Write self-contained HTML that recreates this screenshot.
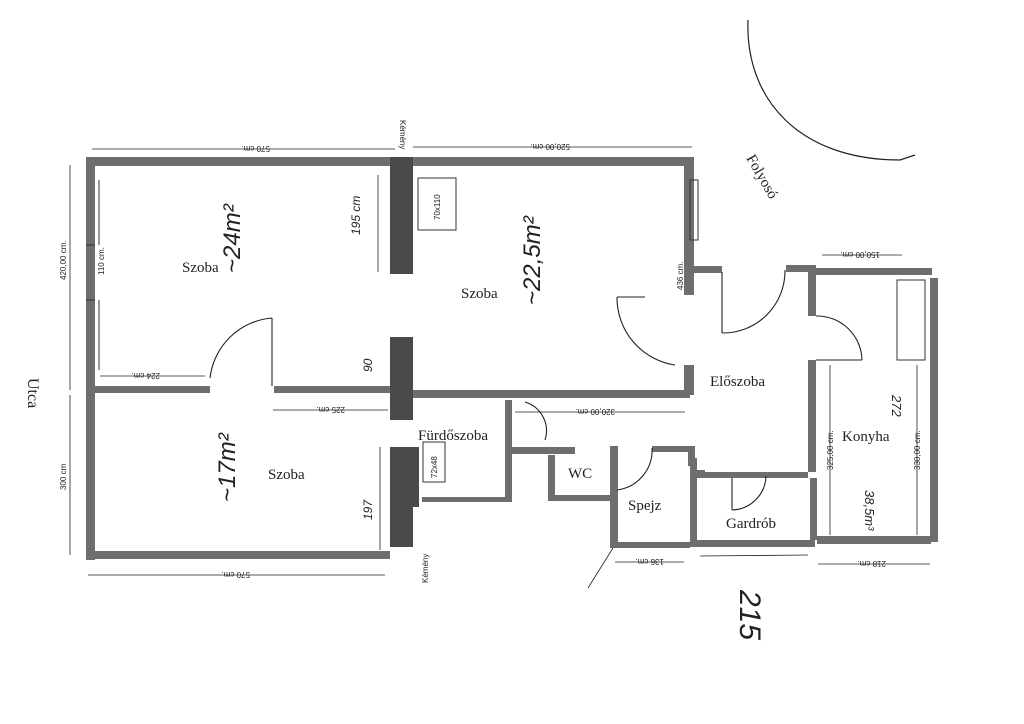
<!DOCTYPE html>
<html><head><meta charset="utf-8"><style>
html,body{margin:0;padding:0;background:#fff;}
svg{display:block}
.t{font-family:"Liberation Serif",serif;fill:#222}
.s{font-family:"Liberation Sans",sans-serif;fill:#222;font-size:8px}
</style></head><body>
<svg width="1024" height="724" viewBox="0 0 1024 724" xmlns="http://www.w3.org/2000/svg">
<rect width="1024" height="724" fill="#fff"/>
<g fill="#6e6e6e">
<!-- left block -->
<rect x="88" y="157" width="302" height="9"/>
<rect x="412" y="157" width="282" height="9"/>
<rect x="86" y="157" width="9" height="403"/>
<rect x="86" y="551" width="304" height="8"/>
<rect x="95" y="386" width="115" height="7"/>
<rect x="274" y="386" width="116" height="7"/>
<rect x="412" y="390" width="278" height="8"/>
<rect x="684" y="157" width="10" height="138"/>
<rect x="684" y="365" width="10" height="30"/>
<!-- foyer/kitchen -->
<rect x="694" y="266" width="28" height="7"/>
<rect x="786" y="265" width="30" height="7"/>
<rect x="816" y="268" width="116" height="7"/>
<rect x="930" y="278" width="8" height="264"/>
<rect x="808" y="268" width="8" height="48"/>
<rect x="808" y="360" width="8" height="112"/>
<rect x="810" y="478" width="7" height="62"/>
<rect x="817" y="536" width="114" height="8"/>
<rect x="697" y="472" width="111" height="6"/>
<rect x="690" y="458" width="7" height="88"/>
<rect x="690" y="540" width="125" height="7"/>
<!-- bath/wc/spejz -->
<rect x="422" y="497" width="85" height="5"/>
<rect x="505" y="400" width="7" height="102"/>
<rect x="512" y="447" width="63" height="7"/>
<rect x="548" y="455" width="7" height="46"/>
<rect x="548" y="495" width="64" height="6"/>
<rect x="610" y="446" width="8" height="102"/>
<rect x="652" y="446" width="38" height="6"/>
<rect x="688" y="446" width="7" height="20"/>
<rect x="612" y="542" width="78" height="6"/>
<rect x="695" y="470" width="10" height="5"/>
</g>
<!-- chimneys -->
<g fill="#4a4a4a">
<rect x="390" y="157" width="23" height="117"/>
<rect x="390" y="337" width="23" height="83"/>
<rect x="390" y="447" width="23" height="100"/>
<rect x="413" y="447" width="6" height="60"/>
</g>
<!-- windows -->
<g stroke="#333" fill="none" stroke-width="1">
<line x1="99" y1="180" x2="99" y2="245"/><line x1="99" y1="300" x2="99" y2="370"/>
<line x1="86" y1="245" x2="95" y2="245"/><line x1="86" y1="300" x2="95" y2="300"/>
<rect x="690" y="180" width="8" height="60"/>
<rect x="418" y="178" width="38" height="52"/>
<rect x="423" y="442" width="22" height="40"/>
<rect x="897" y="280" width="28" height="80"/>
</g>
<!-- doors -->
<g stroke="#222" fill="none" stroke-width="1.1">
<line x1="272" y1="386" x2="272" y2="318"/><path d="M272 318 A68 68 0 0 0 210 378"/>
<line x1="617" y1="297" x2="645" y2="297"/><path d="M617 297 A68 68 0 0 0 675 365"/>
<line x1="722" y1="272" x2="722" y2="333"/><path d="M722 333 A62 62 0 0 0 785 270"/>
<line x1="816" y1="360" x2="862" y2="360"/><path d="M816 316 A45 45 0 0 1 862 360"/>
<line x1="732" y1="478" x2="732" y2="510"/><path d="M732 510 A35 35 0 0 0 766 476"/>
<path d="M652 448 A40 40 0 0 1 617 490"/>
<path d="M525 402 A30 30 0 0 1 545 440"/>
</g>
<!-- dimension lines -->
<g stroke="#222" stroke-width="0.8" fill="none">
<line x1="92" y1="149" x2="395" y2="149"/><line x1="413" y1="147" x2="692" y2="147"/>
<line x1="70" y1="165" x2="70" y2="390"/><line x1="70" y1="395" x2="70" y2="555"/>
<line x1="88" y1="575" x2="385" y2="575"/>
<line x1="273" y1="410" x2="388" y2="410"/>
<line x1="100" y1="376" x2="205" y2="376"/>
<line x1="822" y1="255" x2="902" y2="255"/>
<line x1="615" y1="562" x2="684" y2="562"/>
<line x1="818" y1="564" x2="930" y2="564"/>
<line x1="830" y1="365" x2="830" y2="535"/>
<line x1="917" y1="365" x2="917" y2="535"/>
<line x1="515" y1="412" x2="685" y2="412"/>
<line x1="380" y1="447" x2="380" y2="550"/>
<line x1="378" y1="175" x2="378" y2="272"/>
<path d="M700 556 L808 555"/>
<line x1="613" y1="548" x2="588" y2="588"/>
</g>
<!-- curve -->
<path d="M748 20 C745 100 800 160 900 160 L915 155" stroke="#222" fill="none" stroke-width="1.2"/>
<!-- labels -->
<g class="t" font-size="15">
<text x="182" y="272">Szoba</text>
<text x="461" y="298">Szoba</text>
<text x="268" y="479">Szoba</text>
<text x="418" y="440">Fürdőszoba</text>
<text x="568" y="478">WC</text>
<text x="628" y="510">Spejz</text>
<text x="710" y="386">Előszoba</text>
<text x="842" y="441">Konyha</text>
<text x="726" y="528">Gardrób</text>
<text x="28" y="378" transform="rotate(90 28 378)" font-size="16">Utca</text>
<text x="746" y="158" transform="rotate(60 746 158)" font-size="15">Folyosó</text>
</g>
<g class="s">
<text x="210" y="152" transform="rotate(180 240 149)">570 cm.</text>
<text x="520" y="150" transform="rotate(180 545 147)">520,00 cm.</text>
<text x="200" y="578" transform="rotate(180 225 575)">570 cm.</text>
<text x="315" y="413" transform="rotate(180 330 410)">225 cm.</text>
<text x="130" y="379" transform="rotate(180 145 376)">224 cm.</text>
<text x="840" y="258" transform="rotate(180 860 255)">150,00 cm.</text>
<text x="636" y="565" transform="rotate(180 650 562)">136 cm.</text>
<text x="850" y="567" transform="rotate(180 868 564)">218 cm.</text>
<text x="575" y="415" transform="rotate(180 595 412)">320,00 cm.</text>
<text x="66" y="280" transform="rotate(-90 66 280)">420,00 cm.</text>
<text x="66" y="490" transform="rotate(-90 66 490)">300 cm</text>
<text x="104" y="275" transform="rotate(-90 104 275)">110 cm.</text>
<text x="833" y="470" transform="rotate(-90 833 470)">325,00 cm.</text>
<text x="920" y="470" transform="rotate(-90 920 470)">330,00 cm.</text>
<text x="683" y="290" transform="rotate(-90 683 290)">436 cm.</text>
<text x="440" y="220" transform="rotate(-90 440 220)">70x110</text>
<text x="437" y="478" transform="rotate(-90 437 478)">72x48</text>
<text x="428" y="583" transform="rotate(-90 428 583)">Kémény</text>
<text x="400" y="120" transform="rotate(90 400 120)">Kémény</text>
</g>
<!-- handwriting -->
<g font-family="Liberation Sans,sans-serif" fill="#222" font-style="italic">
<text x="215" y="248" transform="rotate(-90 240 248)" font-size="24">~24m²</text>
<text x="520" y="285" transform="rotate(-90 540 285)" font-size="24">~22,5m²</text>
<text x="218" y="485" transform="rotate(-90 235 485)" font-size="24">~17m²</text>
<text x="730" y="600" transform="rotate(90 740 600)" font-size="30">215</text>
<text x="865" y="490" transform="rotate(90 865 490)" font-size="13">38,5m³</text>
<text x="892" y="395" transform="rotate(90 892 395)" font-size="13">272</text>
<text x="360" y="235" transform="rotate(-90 360 235)" font-size="12">195 cm</text>
<text x="372" y="372" transform="rotate(-90 372 372)" font-size="12">90</text>
<text x="372" y="520" transform="rotate(-90 372 520)" font-size="12">197</text>
</g>
</svg>
</body></html>
